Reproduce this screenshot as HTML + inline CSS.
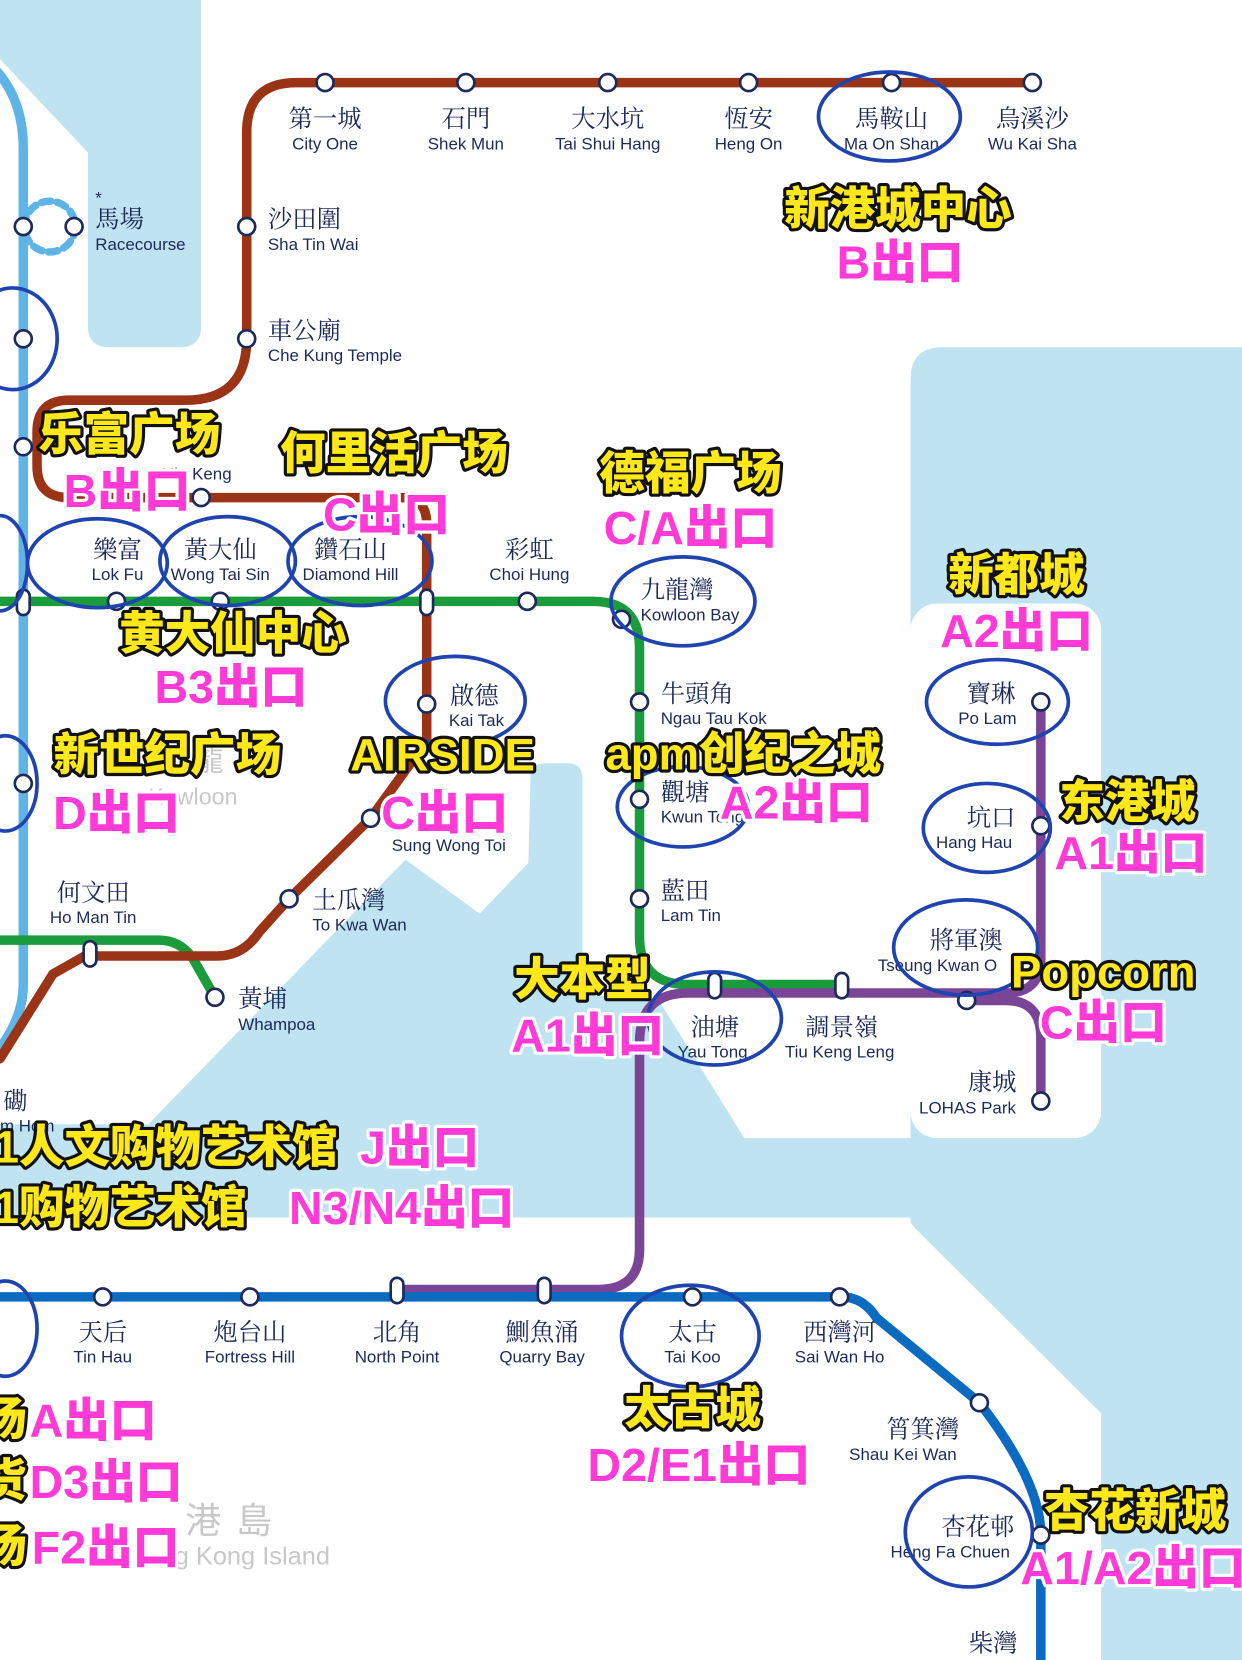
<!DOCTYPE html>
<html><head><meta charset="utf-8"><style>
html,body{margin:0;padding:0;background:#fff;}
svg{display:block;}
.cn{font-family:"Liberation Sans","Noto Serif CJK SC","Noto Sans CJK TC",serif;font-size:23px;fill:#1c2a5a;}
.en{font-family:"Liberation Sans",sans-serif;font-size:16px;fill:#1c2a5a;}
.y{font-family:"Liberation Sans","Noto Sans CJK SC",sans-serif;font-weight:900;fill:#ffe81a;stroke:#111;stroke-width:6;paint-order:stroke;stroke-linejoin:round;}
.p{font-family:"Liberation Sans","Noto Sans CJK SC",sans-serif;font-weight:900;fill:#ff3ad6;stroke:#fff;stroke-width:6;paint-order:stroke;stroke-linejoin:round;}
.st{fill:#fff;stroke:#1c2a5a;stroke-width:2.5;}
.el{fill:none;stroke:#1f44b0;stroke-width:3.5;}
.g{font-family:"Liberation Sans","Noto Sans CJK SC",sans-serif;fill:#c8c8c8;}
</style></head><body>
<svg width="1242" height="1660" viewBox="0 0 1173 1568" preserveAspectRatio="none" xmlns="http://www.w3.org/2000/svg">
<rect width="1173" height="1568" fill="#fff"/>
<g fill="#bfe3f0">
<path d="M0 0 H190 V308 Q190 328 170 328 H103 Q83 328 83 308 V144 L0 56 Z"/>
<path d="M890 328 H1173 V1568 H860 V358 Q860 328 890 328 Z"/>
</g>
<rect x="860" y="570" width="180" height="505" rx="25" fill="#fff"/>
<path d="M501 735 Q501 721 515 721 H536 Q550 721 550 735 V940 L621 943 L703 1075 H1045 V1150 H0 V1062 H140 L383 812 L453 863 L499 815 Z" fill="#bfe3f0"/>
<path d="M0 1150 H848 Q858 1150 864 1160 L1040 1335 V1568 H0 Z" fill="#fff"/>

<g fill="none" stroke-linecap="round" stroke-linejoin="round">
<path d="M-10 60 Q22 90 22 140 V930 Q22 960 0 990" stroke="#5fb3e6" stroke-width="9"/>
<circle cx="47" cy="214" r="24" stroke="#5fb3e6" stroke-width="7" stroke-dasharray="9 6"/>
<path d="M0 568 H560 Q604 568 604 612 V885 Q604 930 650 930 H795" stroke="#1a9b3c" stroke-width="9"/>
<path d="M0 888 H150 Q170 888 182 905 L203 942" stroke="#1a9b3c" stroke-width="9"/>
<path d="M975 78 H280 Q233 78 233 125 V320 Q233 378 175 378 H65 Q35 378 35 408 V440 Q35 470 65 470 H380 Q403 470 403 495 V700 L350 773 L273 849 L245 880 Q230 903 205 903 H80 L50 920 L0 1000" stroke="#9b3316" stroke-width="9"/>
<line x1="22" y1="422" x2="36" y2="422" stroke="#9b3316" stroke-width="6"/>
<path d="M983 663 V905 Q983 938 950 938 H650 Q604 938 604 985 V1180 Q604 1218 565 1218 H375" stroke="#7b4597" stroke-width="9"/>
<path d="M913 945 H950 Q983 945 983 980 V1040" stroke="#7b4597" stroke-width="9"/>
<path d="M0 1225 H795 Q815 1225 828 1245 L925 1325 Q983 1400 983 1450 V1568" stroke="#0b6bc1" stroke-width="9"/>
</g>

<g class="st">
<circle cx="307" cy="78" r="8"/><circle cx="440" cy="78" r="8"/><circle cx="574" cy="78" r="8"/><circle cx="707" cy="78" r="8"/><circle cx="842" cy="78" r="8"/><circle cx="975" cy="78" r="8"/>
<circle cx="233" cy="214" r="8"/><circle cx="233" cy="320" r="8"/>
<circle cx="22" cy="214" r="8"/><circle cx="70" cy="214" r="8"/><circle cx="22" cy="320" r="8"/><circle cx="22" cy="422" r="8"/>
<circle cx="190" cy="470" r="8"/>
<circle cx="110" cy="568" r="8"/><circle cx="208" cy="568" r="8"/><circle cx="498" cy="568" r="8"/><circle cx="587" cy="585" r="8"/>
<circle cx="604" cy="663" r="8"/><circle cx="604" cy="755" r="8"/><circle cx="604" cy="849" r="8"/>
<circle cx="403" cy="665" r="8"/><circle cx="350" cy="773" r="8"/><circle cx="273" cy="849" r="8"/><circle cx="203" cy="942" r="8"/>
<circle cx="22" cy="740" r="8"/>
<circle cx="983" cy="663" r="8"/><circle cx="983" cy="780" r="8"/><circle cx="913" cy="945" r="8"/><circle cx="983" cy="1040" r="8"/>
<circle cx="97" cy="1225" r="8"/><circle cx="236" cy="1225" r="8"/><circle cx="654" cy="1225" r="8"/><circle cx="793" cy="1225" r="8"/>
<circle cx="925" cy="1325" r="8"/><circle cx="983" cy="1450" r="8"/>
<rect x="16" y="557" width="12" height="24" rx="6"/><rect x="397" y="557" width="12" height="24" rx="6"/>
<rect x="79" y="889" width="12" height="24" rx="6"/><rect x="669" y="919" width="12" height="24" rx="6"/><rect x="789" y="919" width="12" height="24" rx="6"/>
<rect x="369" y="1207" width="12" height="24" rx="6"/><rect x="508" y="1207" width="12" height="24" rx="6"/>
</g>

<g class="cn" text-anchor="middle">
<text x="307" y="120">第一城</text><text x="440" y="120">石門</text><text x="574" y="120">大水坑</text><text x="707" y="120">恆安</text><text x="842" y="120">馬鞍山</text><text x="975" y="120">烏溪沙</text>
<text x="111" y="527">樂富</text><text x="208" y="527">黃大仙</text><text x="331" y="527">鑽石山</text><text x="500" y="527">彩虹</text>
<text x="448" y="665">啟德</text><text x="88" y="851">何文田</text>
<text x="675" y="978">油塘</text><text x="795" y="978">調景嶺</text>
<text x="97" y="1266">天后</text><text x="236" y="1266">炮台山</text><text x="375" y="1266">北角</text><text x="512" y="1266">鰂魚涌</text><text x="654" y="1266">太古</text><text x="793" y="1266">西灣河</text>
</g>
<g class="cn">
<text x="253" y="215">沙田圍</text><text x="253" y="320">車公廟</text><text x="90" y="215">馬場</text>
<text x="605" y="565">九龍灣</text><text x="624" y="663">牛頭角</text><text x="624" y="756">觀塘</text><text x="624" y="849">藍田</text>
<text x="295" y="858">土瓜灣</text><text x="225" y="951">黃埔</text>
<text x="913" y="663">寶琳</text><text x="913" y="780">坑口</text><text x="878" y="896">將軍澳</text><text x="914" y="1030">康城</text>
<text x="837" y="1358">筲箕灣</text><text x="889" y="1450">杏花邨</text><text x="915" y="1560">柴灣</text><text x="3" y="1048">磡</text>
</g>
<text x="90" y="192" class="en" font-size="20">*</text>
<g class="en" text-anchor="middle">
<text x="307" y="141">City One</text><text x="440" y="141">Shek Mun</text><text x="574" y="141">Tai Shui Hang</text><text x="707" y="141">Heng On</text><text x="842" y="141">Ma On Shan</text><text x="975" y="141">Wu Kai Sha</text>
<text x="111" y="548">Lok Fu</text><text x="208" y="548">Wong Tai Sin</text><text x="331" y="548">Diamond Hill</text><text x="500" y="548">Choi Hung</text>
<text x="450" y="686">Kai Tak</text><text x="88" y="872">Ho Man Tin</text>
<text x="673" y="999">Yau Tong</text><text x="793" y="999">Tiu Keng Leng</text>
<text x="97" y="1287">Tin Hau</text><text x="236" y="1287">Fortress Hill</text><text x="375" y="1287">North Point</text><text x="512" y="1287">Quarry Bay</text><text x="654" y="1287">Tai Koo</text><text x="793" y="1287">Sai Wan Ho</text>
</g>
<g class="en">
<text x="253" y="236">Sha Tin Wai</text><text x="253" y="341">Che Kung Temple</text><text x="90" y="236">Racecourse</text><text x="153" y="453">Hin Keng</text>
<text x="605" y="586">Kowloon Bay</text><text x="624" y="684">Ngau Tau Kok</text><text x="624" y="777">Kwun Tong</text><text x="624" y="870">Lam Tin</text>
<text x="370" y="804">Sung Wong Toi</text><text x="295" y="879">To Kwa Wan</text><text x="225" y="973">Whampoa</text>
<text x="905" y="684">Po Lam</text><text x="884" y="801">Hang Hau</text><text x="829" y="917">Tseung Kwan O</text><text x="868" y="1052">LOHAS Park</text>
<text x="802" y="1379">Shau Kei Wan</text><text x="841" y="1471">Heng Fa Chuen</text><text x="0" y="1069">m Hom</text>
</g>
<text x="185" y="728" class="g" font-size="26">龍</text><text x="140" y="760" class="g" font-size="22">Kowloon</text>
<text x="175" y="1448" class="g" font-size="34" letter-spacing="14">港島</text><text x="165" y="1478" class="g" font-size="24">g Kong Island</text>

<g class="el">
<ellipse cx="840" cy="110" rx="67" ry="42"/>
<ellipse cx="12" cy="320" rx="42" ry="48"/>
<ellipse cx="0" cy="532" rx="26" ry="45"/>
<ellipse cx="92" cy="532" rx="66" ry="42"/><ellipse cx="215" cy="530" rx="64" ry="42"/><ellipse cx="340" cy="530" rx="68" ry="42"/>
<ellipse cx="645" cy="568" rx="68" ry="42"/>
<ellipse cx="430" cy="662" rx="66" ry="42"/>
<ellipse cx="5" cy="740" rx="30" ry="45"/>
<ellipse cx="645" cy="762" rx="62" ry="38"/>
<ellipse cx="942" cy="663" rx="67" ry="40"/>
<ellipse cx="932" cy="782" rx="60" ry="42"/>
<ellipse cx="912" cy="895" rx="68" ry="45"/>
<ellipse cx="675" cy="962" rx="63" ry="44"/>
<ellipse cx="5" cy="1255" rx="30" ry="45"/>
<ellipse cx="652" cy="1262" rx="65" ry="48"/>
<ellipse cx="915" cy="1447" rx="60" ry="52"/>
</g>

<g class="y" font-size="43" text-anchor="middle">
<text x="848" y="212">新港城中心</text>
<text x="122" y="425">乐富广场</text>
<text x="372" y="443">何里活广场</text>
<text x="652" y="462">德福广场</text>
<text x="960" y="558">新都城</text>
<text x="220" y="613">黄大仙中心</text>
<text x="158" y="728">新世纪广场</text>
<text x="418" y="728">AIRSIDE</text>
<text x="702" y="727">apm创纪之城</text>
<text x="1065" y="772">东港城</text>
<text x="1042" y="933">Popcorn</text>
<text x="550" y="940">大本型</text>
<text x="654" y="1345">太古城</text>
<text x="1072" y="1442">杏花新城</text>
</g>
<g class="y" font-size="43">
<text x="-6" y="1098">1人文购物艺术馆</text>
<text x="-6" y="1155">1购物艺术馆</text>
<text x="-18" y="1355">场</text><text x="-18" y="1413">货</text><text x="-18" y="1475">场</text>
</g>
<g class="p" font-size="44" text-anchor="middle">
<text x="850" y="263">B出口</text>
<text x="120" y="479">B出口</text>
<text x="365" y="501">C出口</text>
<text x="652" y="514">C/A出口</text>
<text x="960" y="611">A2出口</text>
<text x="218" y="664">B3出口</text>
<text x="110" y="783">D出口</text>
<text x="420" y="783">C出口</text>
<text x="752" y="773">A2出口</text>
<text x="1068" y="821">A1出口</text>
<text x="1042" y="981">C出口</text>
<text x="555" y="993">A1出口</text>
<text x="660" y="1399">D2/E1出口</text>
<text x="1070" y="1496">A1/A2出口</text>
</g>
<g class="p" font-size="44">
<text x="340" y="1099">J出口</text>
<text x="273" y="1156">N3/N4出口</text>
<text x="28" y="1357">A出口</text>
<text x="28" y="1415">D3出口</text>
<text x="30" y="1477">F2出口</text>
</g>
</svg>
</body></html>
